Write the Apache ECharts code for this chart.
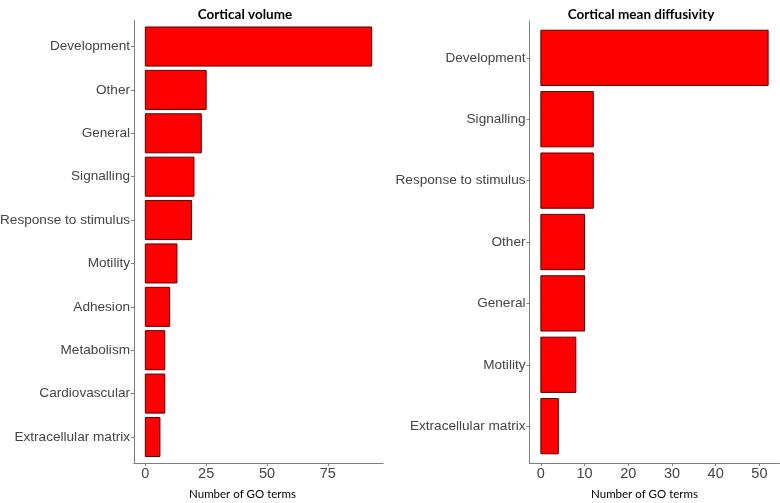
<!DOCTYPE html>
<html>
<head>
<meta charset="utf-8">
<script src="https://cdn.jsdelivr.net/npm/echarts@6/dist/echarts.min.js"></script>
<style>html,body{margin:0;padding:0;background:#fff}#c{width:780px;height:503px}</style>
</head>
<body>
<div id="c"></div>
<script>
// Panel 1: Cortical volume
const volCategories = ['Development','Other','General','Signalling','Response to stimulus','Motility','Adhesion','Metabolism','Cardiovascular','Extracellular matrix'];
const volValues = [93, 25, 23, 20, 19, 13, 10, 8, 8, 6];
const volTicks = [0, 25, 50, 75];
// Panel 2: Cortical mean diffusivity
const mdCategories = ['Development','Signalling','Response to stimulus','Other','General','Motility','Extracellular matrix'];
const mdValues = [52, 12, 12, 10, 10, 8, 4];
const mdTicks = [0, 10, 20, 30, 40, 50];

const chart = echarts.init(document.getElementById('c'), null, {renderer: 'canvas'});
const labelFont = "'Liberation Sans',Arial,sans-serif";
const titleFont = "Lato,'Open Sans',sans-serif";
const axisGrey = '#7f7f7f';
const labelGrey = '#444444';

function idx(arr){ return arr.map((_, i) => i); }
function expandMax(vals){ const m = Math.max(...vals); return [-0.05*m, 1.05*m]; }

function renderBar(params, api){
  const v = api.value(0), i = api.value(1);
  const p0 = api.coord([0, i]);
  const p1 = api.coord([v, i]);
  const h = api.size([0, 0.9])[1];
  return {
    type: 'rect',
    shape: {x: p0[0], y: p0[1] - h/2, width: p1[0] - p0[0], height: h},
    style: {fill: '#ff0000', stroke: '#5a0000', lineWidth: 1}
  };
}

function xAxisFor(gridIndex, vals, ticks, padRight){
  const r = expandMax(vals);
  return {
    type: 'value', gridIndex: gridIndex, min: r[0], max: r[1],
    axisLine: {show: true, onZero: false, lineStyle: {color: axisGrey, width: 1}},
    axisTick: {show: true, length: 3, customValues: ticks, lineStyle: {color: axisGrey}},
    axisLabel: {customValues: ticks, fontFamily: labelFont, fontSize: 14.5, color: labelGrey, margin: 3},
    splitLine: {show: false},
    name: 'Number of GO terms', nameLocation: 'middle', nameGap: 25,
    nameTextStyle: {fontFamily: titleFont, fontSize: 11.5, color: '#000', padding: [0, padRight, 0, 0]}
  };
}

function yAxisFor(gridIndex, cats){
  return {
    type: 'value', gridIndex: gridIndex, inverse: true, min: -0.6, max: cats.length - 0.4,
    axisLine: {show: true, onZero: false, lineStyle: {color: axisGrey, width: 1}},
    axisTick: {show: true, length: 3, customValues: idx(cats), lineStyle: {color: axisGrey}},
    axisLabel: {customValues: idx(cats), formatter: v => cats[Math.round(v)], fontFamily: labelFont, fontSize: 13.6, color: labelGrey, margin: 4},
    splitLine: {show: false}
  };
}

chart.setOption({
  animation: false,
  backgroundColor: '#fff',
  title: [
    {text: 'Cortical volume', left: 240, top: 3, textAlign: 'center',
     textStyle: {fontFamily: titleFont, fontWeight: 'bold', fontSize: 13.5, color: '#000'}},
    {text: 'Cortical mean diffusivity', left: 636, top: 3, textAlign: 'center',
     textStyle: {fontFamily: titleFont, fontWeight: 'bold', fontSize: 13.5, color: '#000'}}
  ],
  grid: [
    {left: 134, top: 20.5, width: 249, height: 442.5, containLabel: false, outerBoundsMode: 'none'},
    {left: 529.5, top: 21, width: 250, height: 442, containLabel: false, outerBoundsMode: 'none'}
  ],
  xAxis: [xAxisFor(0, volValues, volTicks, 32), xAxisFor(1, mdValues, mdTicks, 20)],
  yAxis: [yAxisFor(0, volCategories), yAxisFor(1, mdCategories)],
  series: [
    {type: 'custom', xAxisIndex: 0, yAxisIndex: 0, renderItem: renderBar,
     encode: {x: 0, y: 1}, data: volValues.map((v, i) => [v, i])},
    {type: 'custom', xAxisIndex: 1, yAxisIndex: 1, renderItem: renderBar,
     encode: {x: 0, y: 1}, data: mdValues.map((v, i) => [v, i])}
  ]
});
</script>
</body>
</html>
